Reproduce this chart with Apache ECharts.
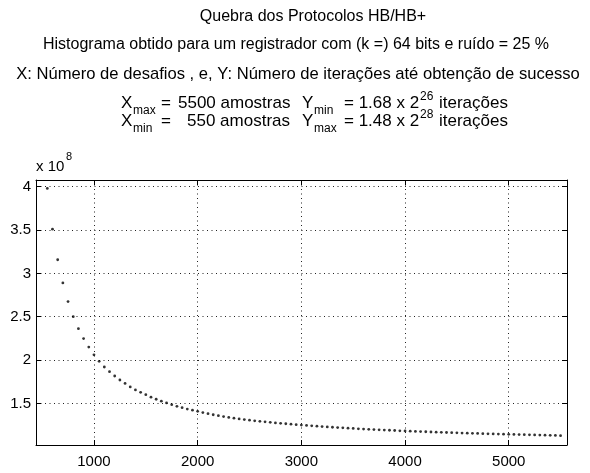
<!DOCTYPE html>
<html><head><meta charset="utf-8">
<script src="https://cdn.jsdelivr.net/npm/echarts@6/dist/echarts.min.js"></script>
<style>html,body{margin:0;padding:0;background:#fff}#c{width:590px;height:473px}</style>
</head><body><div id="c"></div>
<script>
// Number of challenges (samples)
const xValues = [550,600,650,700,750,800,850,900,950,1000,1050,1100,1150,1200,1250,1300,1350,1400,1450,1500,
1550,1600,1650,1700,1750,1800,1850,1900,1950,2000,2050,2100,2150,2200,2250,2300,2350,2400,2450,2500,
2550,2600,2650,2700,2750,2800,2850,2900,2950,3000,3050,3100,3150,3200,3250,3300,3350,3400,3450,3500,
3550,3600,3650,3700,3750,3800,3850,3900,3950,4000,4050,4100,4150,4200,4250,4300,4350,4400,4450,4500,
4550,4600,4650,4700,4750,4800,4850,4900,4950,5000,5050,5100,5150,5200,5250,5300,5350,5400,5450,5500];
// Iterations until success, in units of 10^8
const yValues = [3.98,3.51,3.157,2.89,2.675,2.50,2.362,2.248,2.15,2.06,1.985,1.92,1.866,1.816,1.77,1.73,1.69,1.655,1.628,1.60,
1.572,1.548,1.525,1.505,1.485,1.466,1.45,1.435,1.422,1.408,1.394,1.381,1.369,1.358,1.348,1.338,1.329,1.321,1.313,1.306,
1.299,1.293,1.287,1.281,1.275,1.27,1.265,1.26,1.255,1.25,1.246,1.241,1.237,1.233,1.229,1.225,1.221,1.218,1.214,1.211,
1.207,1.204,1.201,1.198,1.195,1.192,1.19,1.187,1.184,1.182,1.18,1.177,1.175,1.173,1.17,1.168,1.166,1.164,1.162,1.16,
1.158,1.156,1.155,1.153,1.151,1.149,1.148,1.146,1.145,1.143,1.142,1.14,1.139,1.137,1.136,1.134,1.133,1.132,1.13,1.128];
const xTickLabels = [1000,2000,3000,4000,5000];
const yTickLabels = [1.5,2,2.5,3,3.5,4];
const titleLines = [
  'Quebra dos Protocolos HB/HB+',
  'Histograma obtido para um registrador com (k =) 64 bits e ruído = 25 %',
  'X: Número de desafios , e, Y: Número de iterações até obtenção de sucesso'
];

const FONT = 'Liberation Sans';
const X_MIN = 441, X_MAX = 5562, Y_MIN = 1.02, Y_MAX = 4.077;

const chart = echarts.init(document.getElementById('c'), null, {renderer:'canvas'});

function t(x, y, text, size, align) {
  return {type:'text', x:x, y:y, z:100, style:{text:text, fill:'#000', fontSize:size, fontFamily:FONT,
    align: align || 'left', verticalAlign: 'middle'}};
}

const graphics = [
  t(313, 17, titleLines[0], 16, 'center'),
  t(296, 45, titleLines[1], 16, 'center'),
  t(298, 74, titleLines[2], 16.6, 'center'),
  // line 4
  t(121, 103, 'X', 17), t(133, 111, 'max', 12), t(161, 103, '=', 17),
  t(178, 103, '5500 amostras', 17), t(302, 103, 'Y', 17), t(314, 111, 'min', 12),
  t(344, 103, '= 1.68 x 2', 17), t(420, 97, '26', 12), t(439, 103, 'iterações', 17),
  // line 5
  t(121, 121, 'X', 17), t(133, 129, 'min', 12), t(161, 121, '=', 17),
  t(187, 121, '550 amostras', 17), t(302, 121, 'Y', 17), t(314, 129, 'max', 12),
  t(344, 121, '= 1.48 x 2', 17), t(420, 115, '28', 12), t(439, 121, 'iterações', 17),
  // exponent label
  t(36, 167, 'x 10', 15), t(66, 157, '8', 11)
];

const tickLabelStyle = {fontFamily: FONT, fontSize: 15, color:'#000'};
const splitStyle = {show:true, lineStyle:{color:'#222', width:1, type:[1,3.5]}};

chart.setOption({
  animation:false,
  backgroundColor:'#fff',
  grid:{left:36, right:23, top:180, bottom:28, containLabel:false},
  graphic: graphics,
  xAxis:[{
    type:'value', min:X_MIN, max:X_MAX, splitNumber:5, position:'bottom',
    axisLine:{show:true, onZero:false, lineStyle:{color:'#000', width:1}},
    axisTick:{show:true, inside:true, length:5, lineStyle:{color:'#000'}},
    axisLabel:{...tickLabelStyle, margin:9, showMinLabel:false, showMaxLabel:false,
      formatter: v => xTickLabels.indexOf(v) >= 0 ? String(v) : ''},
    splitLine: splitStyle
  },{
    type:'value', min:X_MIN, max:X_MAX, splitNumber:5, position:'top',
    axisLine:{show:true, onZero:false, lineStyle:{color:'#000', width:1}},
    axisTick:{show:true, inside:true, length:5, lineStyle:{color:'#000'}},
    axisLabel:{show:false}, splitLine:{show:false}
  }],
  yAxis:[{
    type:'value', min:Y_MIN, max:Y_MAX, splitNumber:6, position:'left',
    axisLine:{show:true, onZero:false, lineStyle:{color:'#000', width:1}},
    axisTick:{show:true, inside:true, length:5, lineStyle:{color:'#000'}},
    axisLabel:{...tickLabelStyle, margin:5, showMinLabel:false, showMaxLabel:false,
      formatter: v => yTickLabels.indexOf(Math.round(v*100)/100) >= 0 ? String(Math.round(v*100)/100) : ''},
    splitLine: splitStyle
  },{
    type:'value', min:Y_MIN, max:Y_MAX, splitNumber:6, position:'right',
    axisLine:{show:true, onZero:false, lineStyle:{color:'#000', width:1}},
    axisTick:{show:true, inside:true, length:5, lineStyle:{color:'#000'}},
    axisLabel:{show:false}, splitLine:{show:false}
  }],
  series:[{
    type:'scatter', xAxisIndex:0, yAxisIndex:0,
    data: xValues.map((x,i)=>[x, yValues[i]]),
    symbol:'circle', symbolSize:2.8,
    itemStyle:{color:'#000'}
  }]
});
</script></body></html>
